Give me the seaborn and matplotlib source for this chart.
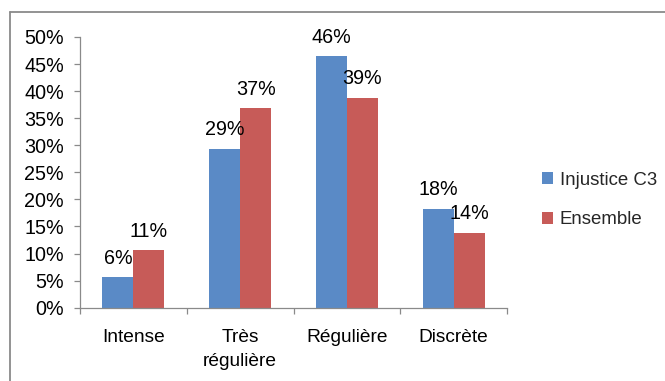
import matplotlib
matplotlib.use("Agg")
import matplotlib.pyplot as plt
import seaborn as sns
import pandas as pd
from matplotlib.patches import Patch
from matplotlib.lines import Line2D
from matplotlib.ticker import PercentFormatter, FixedLocator

# Data
categories = ["Intense", "Très\nrégulière", "Régulière", "Discrète"]
injustice_c3 = [0.056, 0.294, 0.464, 0.183]
ensemble = [0.106, 0.368, 0.388, 0.138]
series_names = ["Injustice C3", "Ensemble"]
y_ticks = [0.0, 0.05, 0.10, 0.15, 0.20, 0.25, 0.30, 0.35, 0.40, 0.45, 0.50]

colors = ["#5A8AC6", "#C75B58"]
axis_grey = "#8A8A8A"

df = pd.DataFrame({
    "categorie": categories * 2,
    "valeur": injustice_c3 + ensemble,
    "serie": [series_names[0]] * len(categories) + [series_names[1]] * len(categories),
})

sns.set_theme(style="white")
plt.rcParams["font.family"] = ["Liberation Sans", "DejaVu Sans"]

W, H = 665, 381
fig = plt.figure(figsize=(W / 100, H / 100), dpi=100)
ax = fig.add_axes([80 / W, 1 - 307.7 / H, (507 - 80) / W, (307.7 - 37) / H])

sns.barplot(data=df, x="categorie", y="valeur", hue="serie",
            order=categories, hue_order=series_names,
            palette=colors, saturation=1, width=0.58,
            linewidth=0, legend=False, ax=ax)

# Value labels above the bars
for cont in ax.containers:
    ax.bar_label(cont, fmt=lambda v: f"{v * 100:.0f}%", padding=7,
                 fontsize=14.2, color="black")

ax.set_xlim(-0.5, len(categories) - 0.5)
ax.set_ylim(0, 0.5)
ax.set_yticks(y_ticks)
ax.yaxis.set_major_formatter(PercentFormatter(1.0, decimals=0))
ax.set_xlabel("")
ax.set_ylabel("")

# Category boundaries carry the tick marks on the x axis
ax.xaxis.set_minor_locator(FixedLocator([i - 0.5 for i in range(len(categories) + 1)]))
ax.tick_params(axis="x", which="major", length=0, pad=15, labelsize=13.8, colors="black")
ax.tick_params(axis="x", which="minor", length=4.5, width=0.9, color=axis_grey, direction="out")
ax.tick_params(axis="y", which="major", length=4.5, width=0.9, color=axis_grey,
               direction="out", pad=7, labelsize=14.2, labelcolor="black")
ax.tick_params(bottom=False, which="major", axis="x")
ax.tick_params(bottom=True, which="minor", axis="x")
ax.tick_params(left=True, axis="y")
for lab in ax.get_xticklabels():
    lab.set_linespacing(1.6)

for side in ["top", "right"]:
    ax.spines[side].set_visible(False)
for side in ["left", "bottom"]:
    ax.spines[side].set_color(axis_grey)
    ax.spines[side].set_linewidth(0.9)

# Legend
handles = [Patch(facecolor=c, edgecolor="none") for c in colors]
fig.legend(handles, series_names, loc="center left",
           bbox_to_anchor=(542 / W, 1 - 200 / H), frameon=False,
           fontsize=13.4, handlelength=0.6, handleheight=0.6,
           handletextpad=0.35, labelspacing=1.2, borderpad=0, borderaxespad=0)

# Chart area border
fig.add_artist(Line2D([10 / W, 1.0], [1 - 12 / H, 1 - 12 / H],
                      transform=fig.transFigure, color=axis_grey, linewidth=1.3))
fig.add_artist(Line2D([10 / W, 10 / W], [1 - 12 / H, 0.0],
                      transform=fig.transFigure, color=axis_grey, linewidth=1.3))

fig.savefig("out.png", dpi=100, facecolor="white")
